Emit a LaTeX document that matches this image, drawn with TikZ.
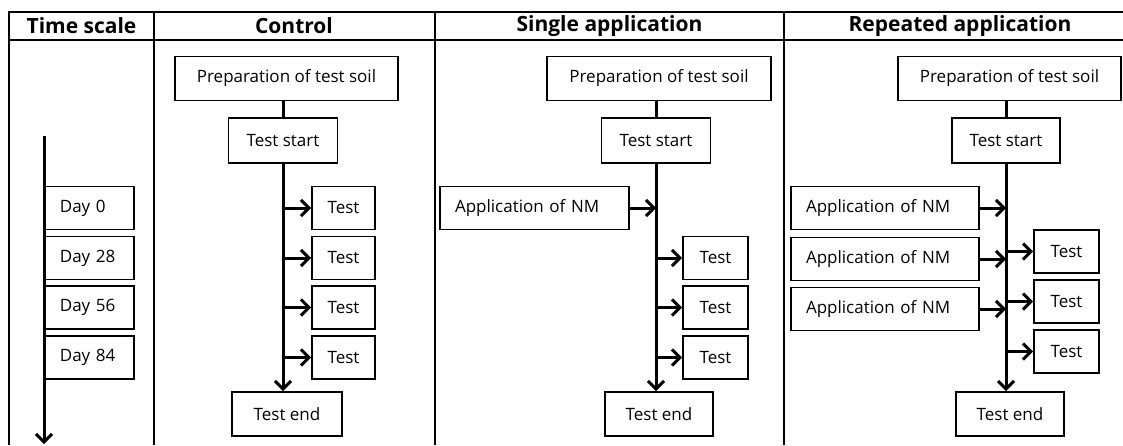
\documentclass[tikz,border=0pt]{standalone}
\usepackage{fontspec}
\setmainfont{Open Sans}
\usetikzlibrary{arrows.meta,positioning}

\begin{document}
\begin{tikzpicture}[x=1pt,y=-1pt]
   \tikzstyle{grid}=[line width=1.5pt]
   \tikzstyle{head}=[font=\fontsize{21}{24}\selectfont\bfseries]
   \tikzstyle{box}=[draw,line width=1.8pt,inner sep=0pt,minimum height=43pt,font=\fontsize{17}{20}\selectfont]
   \tikzstyle{lbox}=[box,align=left,inner xsep=15pt]
   \tikzstyle{ln}=[line width=3pt]
   \tikzstyle{ar}=[ln,-{Straight Barb[length=8pt,width=16pt]}]

   \useasboundingbox (0,0) rectangle (1123,445);

   % table
   \draw [grid] (9,445) -- (9,12) -- (1123,12);
   \draw [grid] (9,40) -- (1123,40);
   \foreach \x in {154,435,784} \draw [grid] (\x,12) -- (\x,445);
   \node [head] (htime) at (81.5,26) {Time scale};
   \node [head] (hcon) at (294,26) {Control};
   \node [head] (hsin) at (609.5,26) {Single application};
   \node [head] (hrep) at (960,26) {Repeated application};

   % time scale
   \coordinate (ttop) at (44,136);
   \coordinate (tbot) at (44,444);
   \foreach \y/\d [count=\i] in {208/0,258/28,307.5/56,357.5/84}
      \node [lbox,text width=59pt,anchor=west] (day\i) at (44,\y) {Day \d};
   \draw [ar] (ttop) -- (tbot);

   % control
   \node [box,minimum width=223pt,minimum height=44pt] (cp) at (286.5,78.5) {Preparation of test soil};
   \node [box,minimum width=109pt,minimum height=45pt] (cs) at (283,140.5) {Test start};
   \node [box,minimum width=110pt,minimum height=44pt] (ce) at (287,414) {Test end};
   \foreach \y [count=\i] in {208,258,307.5,357.5}
      \node [box,minimum width=63pt] (ct\i) at (343.5,\y) {Test};
   \draw [ln] (cs.north) -- (cs.north |- cp.south);
   \draw [ar] (cs.south) -- (cs.south |- ce.north);
   \foreach \i in {1,...,4} \draw [ar] (ct\i.west -| cs.south) -- (ct\i.west);

   % single application
   \node [box,minimum width=224pt,minimum height=44pt] (sp) at (659,78.5) {Preparation of test soil};
   \node [box,minimum width=109pt,minimum height=45pt] (ss) at (656,140.5) {Test start};
   \node [box,minimum width=108pt,minimum height=44pt] (se) at (659,414) {Test end};
   \node [lbox,text width=159pt] (sa) at (534.5,208) {Application of NM};
   \foreach \y [count=\i] in {258,307.5,357.5}
      \node [box,minimum width=65pt] (st\i) at (715.5,\y) {Test};
   \draw [ln] (ss.north) -- (ss.north |- sp.south);
   \draw [ar] (ss.south) -- (ss.south |- se.north);
   \draw [ar] (sa.east) -- (sa.east -| ss.south);
   \foreach \i in {1,...,3} \draw [ar] (st\i.west -| ss.south) -- (st\i.west);

   % repeated application
   \node [box,minimum width=223pt,minimum height=44pt] (rp) at (1009.5,78.5) {Preparation of test soil};
   \node [box,minimum width=108pt,minimum height=45pt] (rs) at (1006,140.5) {Test start};
   \node [box,minimum width=108pt,minimum height=44pt] (re) at (1010,414) {Test end};
   \foreach \y [count=\i] in {208,259,309}
      \node [lbox,text width=158pt] (ra\i) at (885,\y) {Application of NM};
   \foreach \y [count=\i] in {251.5,301.5,351.5}
      \node [box,minimum width=65pt] (rt\i) at (1066.5,\y) {Test};
   \draw [ln] (rs.north) -- (rs.north |- rp.south);
   \draw [ar] (rs.south) -- (rs.south |- re.north);
   \foreach \i in {1,...,3} \draw [ar] (ra\i.east) -- (ra\i.east -| rs.south);
   \foreach \i in {1,...,3} \draw [ar] (rt\i.west -| rs.south) -- (rt\i.west);
\end{tikzpicture}
\end{document}
